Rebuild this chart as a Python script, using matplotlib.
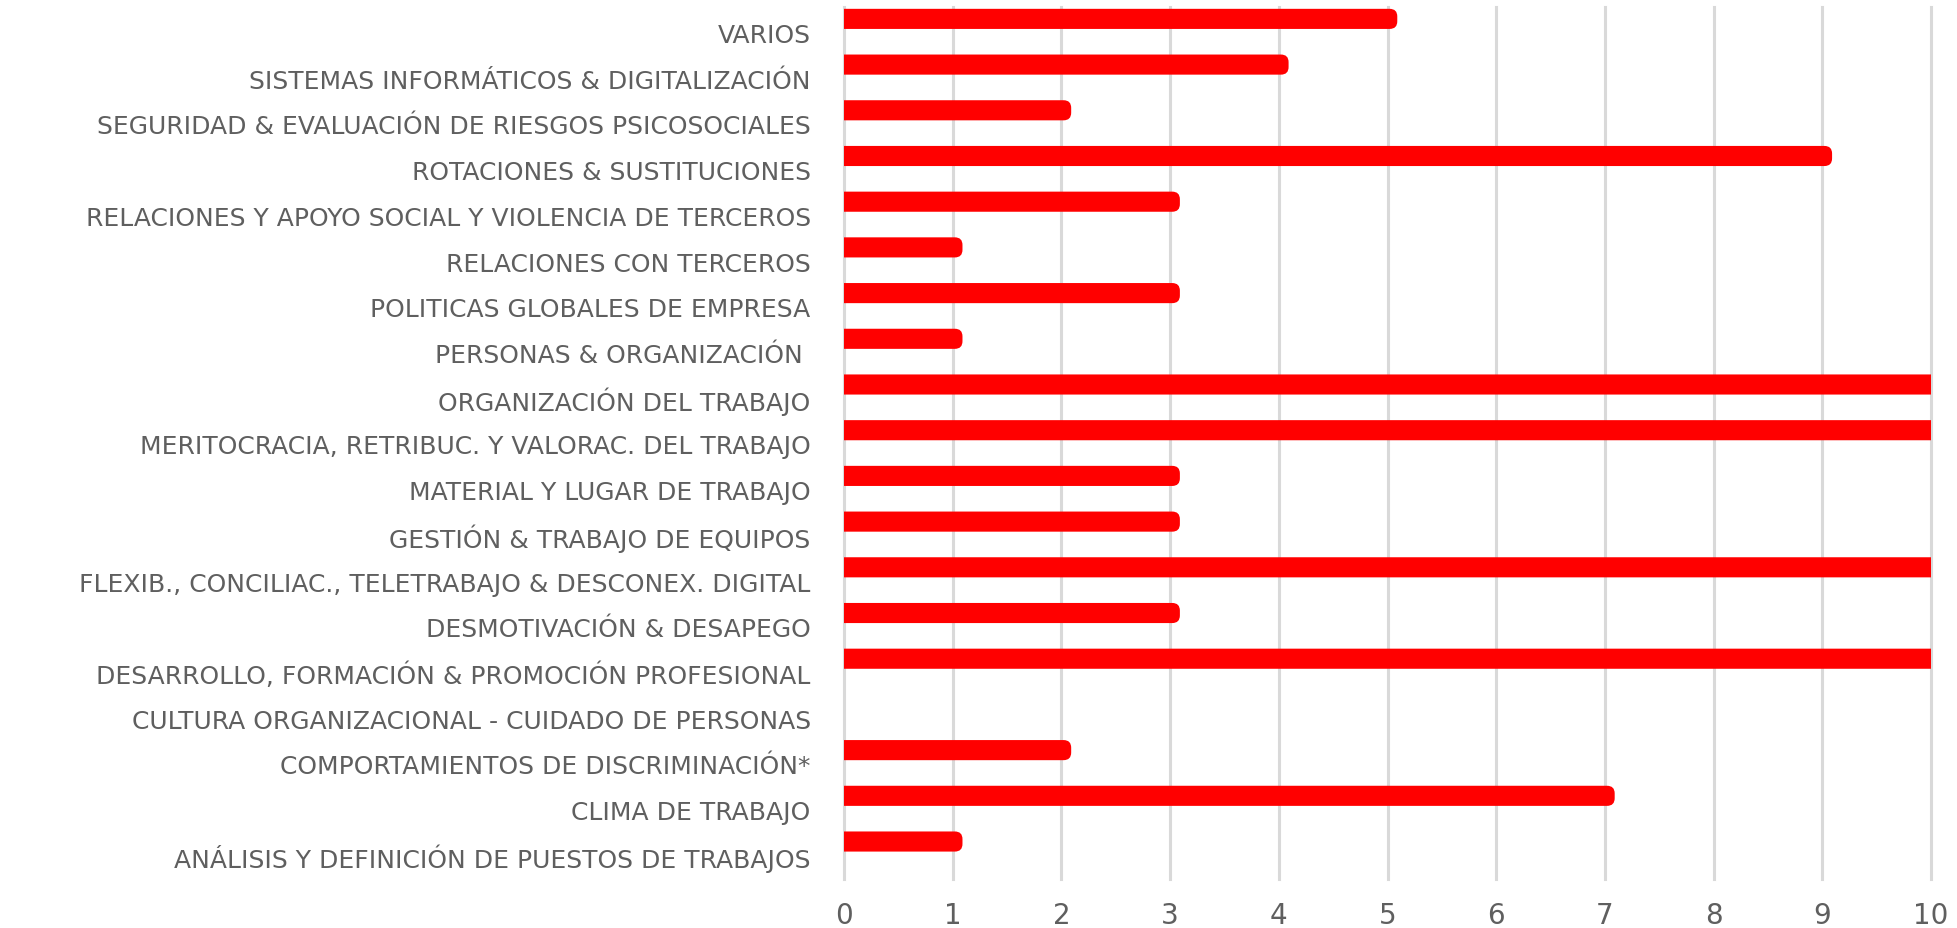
import matplotlib
matplotlib.use("Agg")
import matplotlib.pyplot as plt
from matplotlib.patches import FancyBboxPatch

categories = [
    "ANÁLISIS Y DEFINICIÓN DE PUESTOS DE TRABAJOS",
    "CLIMA DE TRABAJO",
    "COMPORTAMIENTOS DE DISCRIMINACIÓN*",
    "CULTURA ORGANIZACIONAL - CUIDADO DE PERSONAS",
    "DESARROLLO, FORMACIÓN & PROMOCIÓN PROFESIONAL",
    "DESMOTIVACIÓN & DESAPEGO",
    "FLEXIB., CONCILIAC., TELETRABAJO & DESCONEX. DIGITAL",
    "GESTIÓN & TRABAJO DE EQUIPOS",
    "MATERIAL Y LUGAR DE TRABAJO",
    "MERITOCRACIA, RETRIBUC. Y VALORAC. DEL TRABAJO",
    "ORGANIZACIÓN DEL TRABAJO",
    "PERSONAS & ORGANIZACIÓN ",
    "POLITICAS GLOBALES DE EMPRESA",
    "RELACIONES CON TERCEROS",
    "RELACIONES Y APOYO SOCIAL Y VIOLENCIA DE TERCEROS",
    "ROTACIONES & SUSTITUCIONES",
    "SEGURIDAD & EVALUACIÓN DE RIESGOS PSICOSOCIALES",
    "SISTEMAS INFORMÁTICOS & DIGITALIZACIÓN",
    "VARIOS",
]
values = [1, 7, 2, 0, 11, 3, 11, 3, 3, 11, 11, 1, 3, 1, 3, 9, 2, 4, 5]
x_ticks = [0, 1, 2, 3, 4, 5, 6, 7, 8, 9, 10]

W, H = 1957, 929
fig = plt.figure(figsize=(W / 100, H / 100), dpi=100)
ax_left, ax_right, ax_top, ax_bottom = 844, 1931, 8, 880
ax = fig.add_axes([ax_left / W, 1 - ax_bottom / H,
                   (ax_right - ax_left) / W, (ax_bottom - ax_top) / H])

n = len(categories)
ax.set_xlim(0, 10)
ax.set_ylim(-0.52, n - 1 + 0.56)

fig.canvas.draw()
p0 = ax.transData.transform((0, 0))
p1 = ax.transData.transform((1, 1))
aspect = (p1[0] - p0[0]) / (p1[1] - p0[1])

bar_h = 0.44
offset = 0.30
cap = 0.09
for i, v in enumerate(values):
    if v <= 0:
        continue
    yc = i + offset
    patch = FancyBboxPatch((-0.3, yc - bar_h / 2), v + 0.3 + cap, bar_h,
                           boxstyle="round,pad=0,rounding_size=0.07",
                           mutation_aspect=aspect,
                           facecolor="#ff0000", edgecolor="none", zorder=3)
    ax.add_patch(patch)

ax.set_yticks(range(n))
ax.set_yticklabels(categories, fontfamily="DejaVu Sans", fontsize=18, color="#5f5f5f")
ax.set_xticks(x_ticks)
ax.set_xticklabels([str(t) for t in x_ticks], fontfamily="DejaVu Sans", fontsize=20, color="#5f5f5f")
ax.tick_params(axis="y", length=0, pad=24)
ax.tick_params(axis="x", length=0, pad=16)
ax.grid(axis="x", color="#d9d9d9", linewidth=2.2, zorder=0)
ax.set_axisbelow(True)
for ln in ax.get_xgridlines():
    ln.set_clip_on(False)
for s in ax.spines.values():
    s.set_visible(False)

fig.savefig("out.png", dpi=100)
